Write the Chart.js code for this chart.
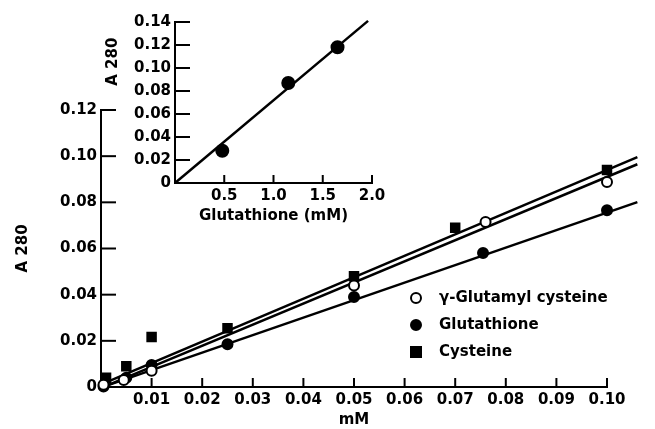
<!DOCTYPE html>
<html>
<head>
<meta charset="utf-8">
<script src="https://cdn.jsdelivr.net/npm/chart.js@4.4.0/dist/chart.umd.min.js"></script>
<style>
  html, body { margin: 0; padding: 0; background: #fff; }
  #wrap { position: relative; width: 655px; height: 429px; }
  #main { position: absolute; left: 0; top: 0; width: 655px; height: 429px; }
  #inset { position: absolute; left: 100px; top: 0; width: 290px; height: 225px; }
</style>
</head>
<body>
<div id="wrap">
  <div id="main"><canvas id="mainChart"></canvas></div>
  <div id="inset"><canvas id="insetChart"></canvas></div>
</div>
<script>
// main plot: A280 vs concentration (mM)
const gammaX = [0.0005, 0.0045, 0.01, 0.05, 0.076, 0.1];
const gammaY = [0.001, 0.003, 0.007, 0.044, 0.0715, 0.0888];
const glutX = [0.0005, 0.005, 0.01, 0.025, 0.05, 0.0755, 0.1];
const glutY = [0.0002, 0.004, 0.0095, 0.0185, 0.039, 0.058, 0.0766];
const cysX = [0.001, 0.005, 0.01, 0.025, 0.05, 0.07, 0.1];
const cysY = [0.004, 0.009, 0.0217, 0.0255, 0.048, 0.069, 0.094];

// fitted lines (ends)
const fitX = [0.001, 0.106];
const cysFit = [0.002, 0.0996];
const gammaFit = [0.0005, 0.0965];
const glutFit = [0.0005, 0.0801];

// inset: glutathione at higher concentration
const insetX = [0.48, 1.15, 1.65];
const insetY = [0.028, 0.087, 0.118];
const insetFitX = [0, 1.96];
const insetFitY = [0, 0.141];

const seriesLabels = ['γ-Glutamyl cysteine', 'Glutathione', 'Cysteine'];

const FONT = { family: 'DejaVu Sans', size: 15, weight: 'bold' };
Chart.defaults.color = '#000';
Chart.defaults.font.family = 'DejaVu Sans';

function pts(xs, ys) {
    return xs.map((x, i) => ({ x: x, y: ys[i] }));
}

function fmt(v) {
    if (Math.abs(v) < 1e-9) return '0';
    return v.toFixed(2);
}

// ticks pointing into the plot, like the original figure
const inwardTicks = {
    id: 'inwardTicks',
    afterDraw(chart, args, opts) {
        const ctx = chart.ctx;
        const x = chart.scales.x, y = chart.scales.y;
        ctx.save();
        ctx.strokeStyle = '#000';
        ctx.lineWidth = 2;
        y.ticks.forEach(t => {
            if (t.value === 0) return;
            const py = y.getPixelForValue(t.value);
            ctx.beginPath();
            ctx.moveTo(y.right, py);
            ctx.lineTo(y.right + opts.yLen, py);
            ctx.stroke();
        });
        x.ticks.forEach(t => {
            if (t.value === 0) return;
            const px = x.getPixelForValue(t.value);
            ctx.beginPath();
            ctx.moveTo(px, x.top);
            ctx.lineTo(px, x.top - opts.xLen);
            ctx.stroke();
        });
        ctx.restore();
    }
};

// legend drawn inside the plot area
const innerLegend = {
    id: 'innerLegend',
    afterDraw(chart, args, opts) {
        if (!opts.show) return;
        const ctx = chart.ctx;
        ctx.save();
        ctx.font = 'bold 15px "DejaVu Sans"';
        ctx.textBaseline = 'middle';
        chart.data.datasets.filter(d => d.inLegend).forEach((d, i) => {
            const cy = opts.y + i * opts.step;
            ctx.fillStyle = d.pointBackgroundColor;
            ctx.strokeStyle = '#000';
            ctx.lineWidth = 2;
            ctx.beginPath();
            if (d.pointStyle === 'rect') {
                ctx.rect(opts.x - 5, cy - 5, 10, 10);
            } else {
                ctx.arc(opts.x, cy, 5, 0, Math.PI * 2);
            }
            ctx.fill();
            ctx.stroke();
            ctx.fillStyle = '#000';
            ctx.fillText(d.label, opts.x + 23, cy);
        });
        ctx.restore();
    }
};

function scatterSet(label, data, style, fill, r) {
    return {
        label: label,
        type: 'scatter',
        data: data,
        inLegend: true,
        pointStyle: style,
        pointRadius: r,
        pointBackgroundColor: fill,
        pointBorderColor: '#000',
        pointBorderWidth: 2,
        showLine: false,
        clip: false,
        order: 0
    };
}

function lineSet(data) {
    return {
        type: 'line',
        data: data,
        borderColor: '#000',
        borderWidth: 2.5,
        pointRadius: 0,
        fill: false,
        clip: false,
        order: 1
    };
}

function axis(min, max, step, size, title, titlePad, align, tickCb) {
    return {
        type: 'linear',
        min: min,
        max: max,
        afterFit: s => { if (s.isHorizontal()) s.height = size; else s.width = size; },
        grid: { drawOnChartArea: false, drawTicks: false },
        border: { display: true, color: '#000', width: 2 },
        ticks: { stepSize: step, font: FONT, color: '#000', padding: 4, callback: tickCb, maxRotation: 0, autoSkip: false },
        title: { display: true, text: title, font: FONT, color: '#000', padding: titlePad, align: align }
    };
}

new Chart(document.getElementById('mainChart'), {
    data: {
        datasets: [
            scatterSet(seriesLabels[0], pts(gammaX, gammaY), 'circle', '#fff', 5),
            scatterSet(seriesLabels[1], pts(glutX, glutY), 'circle', '#000', 5),
            scatterSet(seriesLabels[2], pts(cysX, cysY), 'rect', '#000', 6),
            lineSet(pts(fitX, cysFit)),
            lineSet(pts(fitX, gammaFit)),
            lineSet(pts(fitX, glutFit))
        ]
    },
    options: {
        responsive: true,
        maintainAspectRatio: false,
        animation: false,
        layout: { padding: { top: 110, right: 48, left: 0, bottom: 0 } },
        plugins: {
            legend: { display: false },
            tooltip: { enabled: false },
            inwardTicks: { xLen: 9, yLen: 15 },
            innerLegend: { show: true, x: 416, y: 298, step: 27 }
        },
        scales: {
            x: axis(0, 0.1, 0.01, 42, 'mM', { top: 6, bottom: 0 }, 'center',
                v => (v === 0 ? '' : v.toFixed(2))),
            y: axis(0, 0.12, 0.02, 101, 'A 280', { top: 14, bottom: 0 }, 'center', fmt)
        }
    },
    plugins: [inwardTicks, innerLegend]
});

new Chart(document.getElementById('insetChart'), {
    data: {
        datasets: [
            scatterSet('Glutathione', pts(insetX, insetY), 'circle', '#000', 6),
            lineSet(pts(insetFitX, insetFitY))
        ]
    },
    options: {
        responsive: true,
        maintainAspectRatio: false,
        animation: false,
        layout: { padding: { top: 22, right: 18, left: 0, bottom: 0 } },
        plugins: {
            legend: { display: false },
            tooltip: { enabled: false },
            inwardTicks: { xLen: 8, yLen: 15 },
            innerLegend: { show: false }
        },
        scales: {
            x: axis(0, 2.0, 0.5, 42, 'Glutathione (mM)', { top: 2, bottom: 0 }, 'center',
                v => (v === 0 ? '' : v.toFixed(1))),
            y: axis(0, 0.14, 0.02, 75, 'A 280   ', { top: 4, bottom: 0 }, 'end', fmt)
        }
    },
    plugins: [inwardTicks, innerLegend]
});
</script>
</body>
</html>
